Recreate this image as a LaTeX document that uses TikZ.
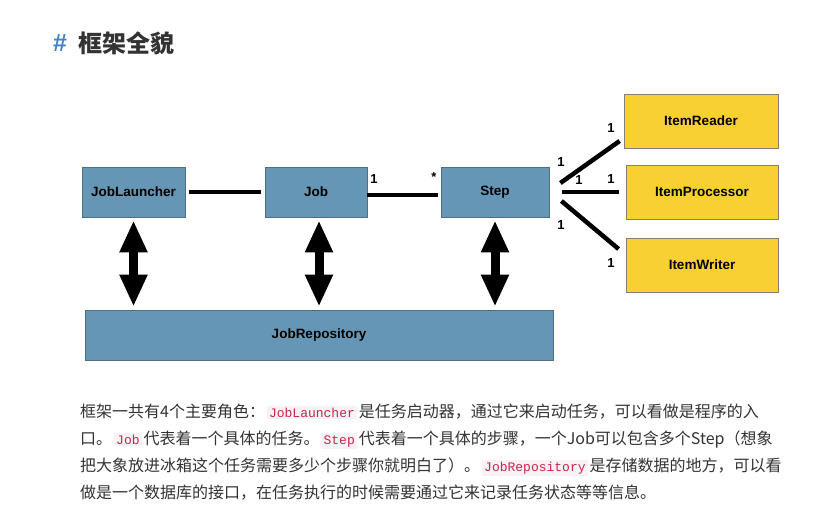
\documentclass[tikz,border=0pt]{standalone}
\usepackage{fontspec}
\setmainfont{Liberation Sans}
\newfontfamily\cjkfont{Noto Sans CJK SC}
\newfontfamily\codefont{Liberation Mono}
\usepackage{xcolor}
\usetikzlibrary{arrows.meta, positioning, calc}
\definecolor{BoxBlue}{RGB}{101,150,181}
\definecolor{BoxEdge}{RGB}{80,110,130}
\definecolor{ItemYellow}{RGB}{248,208,50}
\definecolor{ItemEdge}{RGB}{130,130,110}
\definecolor{HashBlue}{RGB}{65,131,196}
\definecolor{TextGray}{RGB}{51,51,51}
\definecolor{CodeBg}{RGB}{249,242,244}
\definecolor{CodeRed}{RGB}{199,37,78}
\newcommand\jcode[1]{\hspace{2pt}{\setlength{\fboxsep}{2pt}\colorbox{CodeBg}{\codefont\fontsize{13}{15}\selectfont\color{CodeRed}#1}}\hspace{2pt}}
\tikzset{
  % boxes of the diagram
  box/.style={draw=BoxEdge,line width=0.8pt,inner sep=0pt,text=black,
    font=\fontsize{13.5}{15}\selectfont\bfseries},
  box blue/.style={box,fill=BoxBlue},
  box yellow/.style={box,fill=ItemYellow,draw=ItemEdge},
  % connectors
  link/.style={line width=4.5pt,black},
  dbl/.style={line width=9pt,
    {Triangle[width=26pt,length=32pt]}-{Triangle[width=26pt,length=32pt]},
    shorten <=3pt,shorten >=3pt},
  mult/.style={inner sep=0pt,font=\fontsize{13}{15}\selectfont\bfseries},
  % texts of the page
  title/.style={inner sep=0pt,font=\fontsize{25}{28}\selectfont\bfseries},
  para/.style={anchor=base west,inner sep=0pt,text=TextGray,
    font=\cjkfont\fontsize{16}{20}\selectfont}
}
\begin{document}
\begin{tikzpicture}[x=1pt,y=-1pt]
  \fill[white] (0,0) rectangle (816,519);
  \useasboundingbox (0,0) rectangle (816,519);
  % title
  \node[title,text=HashBlue] (hash) at (60,43) {\#};
  \node[title,anchor=west,text=TextGray,font=\cjkfont\fontsize{24}{28}\selectfont\bfseries]
    (heading) at (78,43) {框架全貌};
  % main boxes
  \node[box blue,minimum width=103,minimum height=50] (launcher) at (133.5,192) {JobLauncher};
  \node[box blue,minimum width=102,minimum height=50] (job) at (316,192) {Job};
  \node[box blue,minimum width=108,minimum height=50] (step) at (495,192) {Step};
  \node[box blue,minimum width=468,minimum height=50] (repo) at (319,335) {JobRepository};
  % items
  \node[box yellow,minimum width=154,minimum height=54] (reader) at (701,121) {ItemReader};
  \node[box yellow,minimum width=152,minimum height=54] (processor) at (702,192) {ItemProcessor};
  \node[box yellow,minimum width=152,minimum height=54] (writer) at (702,265) {ItemWriter};
  % links
  \draw[link,shorten <=4pt,shorten >=4pt] (launcher) -- (job);
  \draw[link,shorten >=3pt] ([yshift=-3pt]job.east) -- ([yshift=-3pt]step.west);
  \node[mult] (m1) at (374,179) {1};
  \node[mult] (m2) at (434,177) {*};
  \draw[link] ([xshift=11pt,yshift=9pt]step.east) -- ([xshift=-4pt,yshift=-20pt]reader.west);
  \draw[link] ([xshift=13pt]step.east) -- ([xshift=-7pt]processor.west);
  \draw[link] ([xshift=12pt,yshift=-9pt]step.east) -- ([xshift=-7pt,yshift=16pt]writer.west);
  \node[mult] (m3) at (561,162) {1};
  \node[mult] (m4) at (611,128) {1};
  \node[mult] (m5) at (579,180) {1};
  \node[mult] (m6) at (611,179) {1};
  \node[mult] (m7) at (561,225) {1};
  \node[mult] (m8) at (611,263) {1};
  % repository arrows
  \draw[dbl] (launcher.south) -- (launcher.south |- repo.north);
  \draw[dbl] ([xshift=3pt]job.south) -- ([xshift=3pt]job.south |- repo.north);
  \draw[dbl] (step.south) -- (step.south |- repo.north);
  % text below
  \node[para] (line1) at (80,417) {框架一共有4个主要角色：\jcode{JobLauncher}是任务启动器，通过它来启动任务，可以看做是程序的入};
  \node[para] (line2) at (80,444) {口。\jcode{Job}代表着一个具体的任务。\jcode{Step}代表着一个具体的步骤，一个Job可以包含多个Step（想象};
  \node[para] (line3) at (80,471) {把大象放进冰箱这个任务需要多少个步骤你就明白了）。\jcode{JobRepository}是存储数据的地方，可以看};
  \node[para] (line4) at (80,498) {做是一个数据库的接口，在任务执行的时候需要通过它来记录任务状态等等信息。};
\end{tikzpicture}
\end{document}
